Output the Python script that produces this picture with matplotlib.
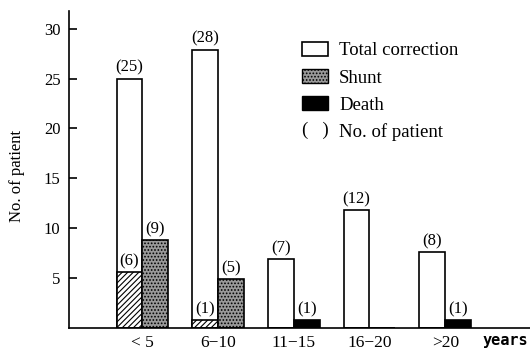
import matplotlib
matplotlib.use('Agg')
import matplotlib.pyplot as plt
from matplotlib.patches import Patch
from matplotlib.legend_handler import HandlerBase
from matplotlib.text import Text

plt.rcParams['font.family'] = 'Liberation Serif'
plt.rcParams['hatch.linewidth'] = 0.8

groups = ['< 5', '6\u221210', '11\u221215', '16\u221220', '>20']
total_h = [25, 27.9, 6.9, 11.8, 7.6]
total_n = [25, 28, 7, 12, 8]
death_in_total_h = [5.6, 0.8, 0, 0, 0]
death_in_total_n = [6, 1, None, None, None]
shunt_h = [8.8, 4.9, 0, 0, 0]
shunt_n = [9, 5, None, None, None]
death_side_h = [0, 0, 0.8, 0, 0.8]
death_side_n = [None, None, 1, None, 1]


class ParenHandler(HandlerBase):
    def create_artists(self, legend, orig_handle, xdescent, ydescent,
                       width, height, fontsize, trans):
        t = Text(width / 2 - xdescent, height / 2 - ydescent, '(   )',
                 ha='center', va='center', fontsize=fontsize, transform=trans)
        return [t]


def label(ax, x, h, n):
    if n is None:
        return
    ax.annotate(f'({n})', (x, h), xytext=(0, 2), textcoords='offset points',
                ha='center', va='bottom', fontsize=12)


def main():
    fig = plt.figure(figsize=(5.3, 3.53), dpi=100)
    ax = fig.add_axes([0.130, 0.070, 0.870, 0.900])
    w = 0.34
    x = list(range(len(groups)))
    xl = [i - w / 2 for i in x]
    xr = [i + w / 2 for i in x]

    ax.bar(xl, total_h, width=w, color='white', edgecolor='black', linewidth=1.2)
    ax.bar(xl, death_in_total_h, width=w, color='white', edgecolor='black',
           hatch='//////', linewidth=1.2)
    ax.bar(xr, shunt_h, width=w, color='#9a9a9a', edgecolor='black',
           hatch='.....', linewidth=1.2)
    ax.bar(xr, death_side_h, width=w, color='black', edgecolor='black',
           hatch='//////', linewidth=1.2)

    for i in x:
        label(ax, xl[i], total_h[i], total_n[i])
        label(ax, xl[i], death_in_total_h[i], death_in_total_n[i])
        label(ax, xr[i], shunt_h[i], shunt_n[i])
        label(ax, xr[i], death_side_h[i], death_side_n[i])

    ax.set_xlim(-0.97, 5.12)
    ax.set_ylim(0, 31.8)
    ax.set_yticks([5, 10, 15, 20, 25, 30])
    ax.tick_params(axis='y', direction='in', length=6, width=1.2, labelsize=12, pad=6)
    ax.set_xticks(x)
    ax.set_xticklabels(groups, fontsize=12.5)
    ax.tick_params(axis='x', length=0, pad=5)
    ax.set_ylabel('No. of patient', fontsize=12)
    ax.yaxis.set_label_coords(-0.095, 0.48)
    ax.text(0.995, -0.04, 'years', transform=ax.transAxes, ha='right', va='center',
            fontsize=11, family='DejaVu Sans Mono', fontweight='bold')

    for s in ['top', 'right']:
        ax.spines[s].set_visible(False)
    ax.spines['left'].set_linewidth(1.2)
    ax.spines['bottom'].set_linewidth(1.2)

    handles = [Patch(facecolor='white', edgecolor='black', linewidth=1.2),
               Patch(facecolor='#9a9a9a', edgecolor='black', hatch='.....'),
               Patch(facecolor='black', edgecolor='black', hatch='//////'),
               'paren']
    labels = ['Total correction', 'Shunt', 'Death', 'No. of patient']
    ax.legend(handles, labels, handler_map={str: ParenHandler()},
              loc='upper left', bbox_to_anchor=(0.47, 0.955), frameon=False,
              fontsize=13.5, handlelength=1.35, handleheight=0.8,
              labelspacing=0.5, handletextpad=0.6, borderpad=0.4)

    plt.savefig('out.png')


if __name__ == '__main__':
    main()
